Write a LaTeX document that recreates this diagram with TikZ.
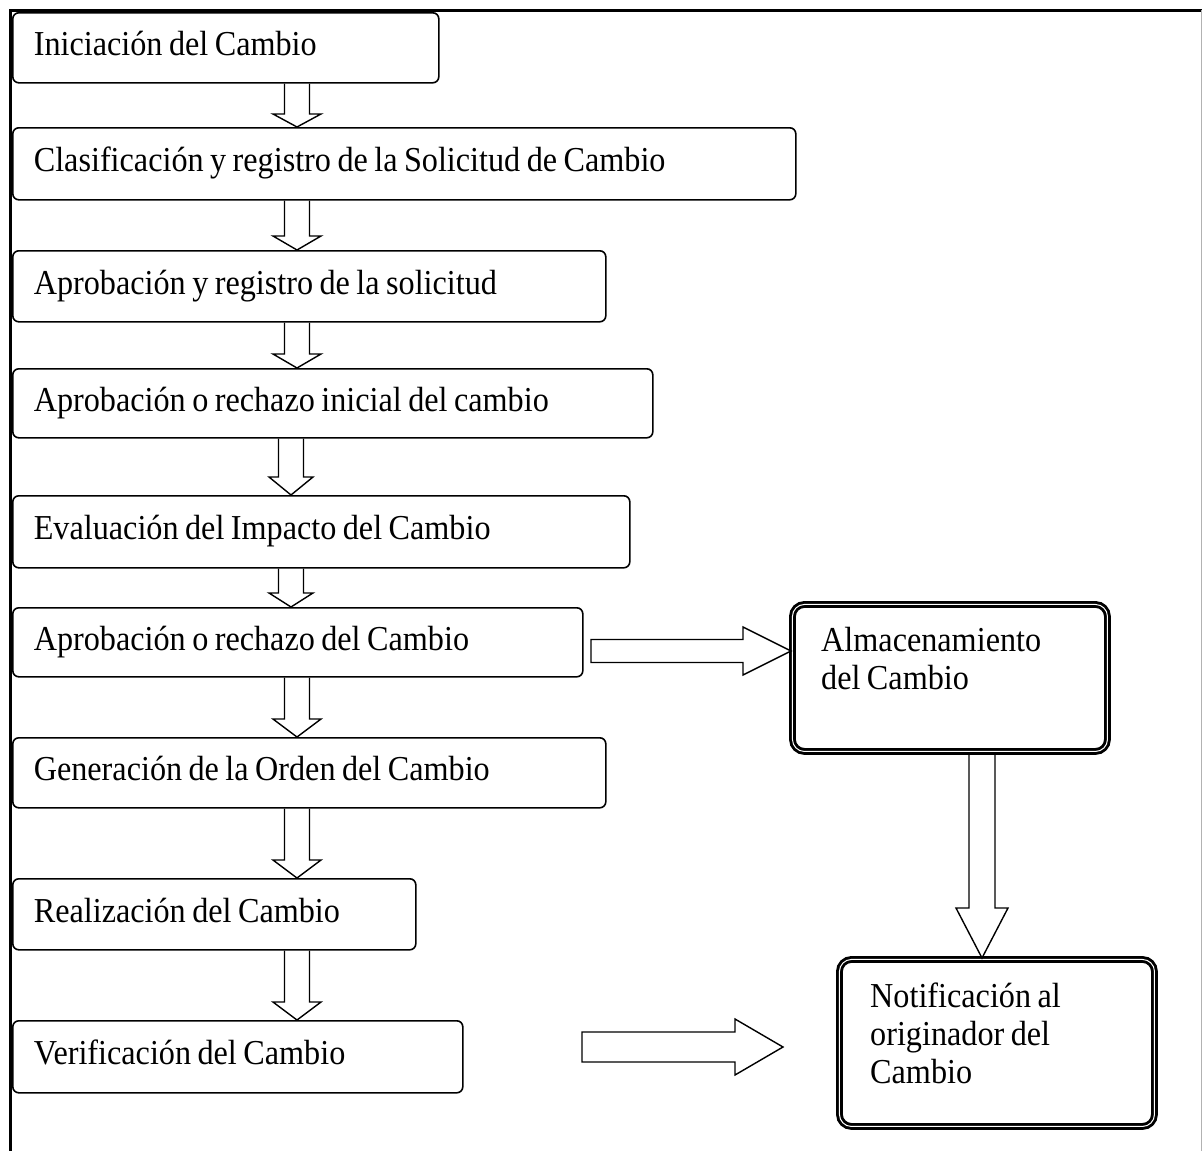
\documentclass[tikz,border=0pt]{standalone}
\usepackage{fontspec}
\setmainfont[FakeStretch=0.92, WordSpace=0.8]{Liberation Serif}
\usetikzlibrary{calc}
\newcommand{\VArrow}[6]{\draw[blockarrow] let \p1=(#1.south), \p2=(#2.north) in
  ({#3pt-#5pt},\y1) -- ({#3pt-#5pt},{\y2+#4pt}) -- ({#3pt-#6pt},{\y2+#4pt}) -- (#3pt,\y2)
  -- ({#3pt+#6pt},{\y2+#4pt}) -- ({#3pt+#5pt},{\y2+#4pt}) -- ({#3pt+#5pt},\y1);}
\newcommand{\HArrow}[5]{\draw[blockarrow] let \p1=(#1), \p2=(#2) in
  (\x1,{\y1+#3pt}) -- ({\x2-#5pt},{\y1+#3pt}) -- ({\x2-#5pt},{\y1+#4pt}) -- (\x2,\y1)
  -- ({\x2-#5pt},{\y1-#4pt}) -- ({\x2-#5pt},{\y1-#3pt}) -- (\x1,{\y1-#3pt}) -- cycle;}
\begin{document}
\begin{tikzpicture}[x=1pt,y=-1pt,
  sbox/.style={draw=black, line width=1.6pt, rounded corners=6pt, anchor=north west,
    inner xsep=21pt, inner ysep=0pt, align=flush left, text height=16pt, text depth=0pt,
    font=\fontsize{35}{38}\selectfont},
  tbox/.style={draw=black, line width=2.9pt, double=white, double distance=1pt,
    rounded corners=12pt, anchor=north west},
  txt/.style={anchor=north west, inner sep=0pt, align=left, font=\fontsize{35}{38}\selectfont},
  blockarrow/.style={draw=black, line width=1.4pt, line join=miter},
]
\useasboundingbox (0,0) rectangle (1202,1151);
\draw[line width=3pt] (10,1151) -- (10,10) -- (1202,10);
\draw[gray!60, line width=1pt] (1201,10) -- (1201,1151);

\node[sbox, text width=384pt, minimum height=70pt] (b1) at (12,12) {Iniciación del Cambio};
\node[sbox, text width=741pt, minimum height=72pt] (b2) at (12,127) {Clasificación y registro de la Solicitud de Cambio};
\node[sbox, text width=551pt, minimum height=71pt] (b3) at (12,250) {Aprobación y registro de la solicitud};
\node[sbox, text width=598pt, minimum height=69pt] (b4) at (12,368) {Aprobación o rechazo inicial del cambio};
\node[sbox, text width=575pt, minimum height=72pt] (b5) at (12,495) {Evaluación del Impacto del Cambio};
\node[sbox, text width=528pt, minimum height=69pt] (b6) at (12,607) {Aprobación o rechazo del Cambio};
\node[sbox, text width=551pt, minimum height=70pt] (b7) at (12,737) {Generación de la Orden del Cambio};
\node[sbox, text width=361pt, minimum height=71pt] (b8) at (12,878) {Realización del Cambio};
\node[sbox, text width=408pt, minimum height=72pt] (b9) at (12,1020) {Verificación del Cambio};

\node[tbox, minimum width=315pt, minimum height=147pt] (r1) at (791,603) {};
\node[txt] (r1t) at (821,627) {Almacenamiento\\del Cambio};
\node[tbox, minimum width=315pt, minimum height=167pt] (r2) at (838,958) {};
\node[txt] (r2t) at (870,983) {Notificación al\\originador del\\Cambio};

\VArrow{b1}{b2}{297}{13}{12.5}{24}
\VArrow{b2}{b3}{297}{14}{12.5}{24}
\VArrow{b3}{b4}{297}{14}{12.5}{24}
\VArrow{b4}{b5}{291}{18}{12.5}{22}
\VArrow{b5}{b6}{291}{14}{12.5}{22}
\VArrow{b6}{b7}{297}{18}{12.5}{24}
\VArrow{b7}{b8}{297}{18}{12.5}{24}
\VArrow{b8}{b9}{297}{18}{12.5}{24}
\VArrow{r1}{r2}{982}{50}{13}{26}

\coordinate (h1s) at (591,651);
\coordinate (h1e) at (r1.west |- h1s);
\coordinate (h2s) at (582,1047);
\coordinate (h2e) at (783,1047);
\HArrow{h1s}{h1e}{11.5}{24}{48}
\HArrow{h2s}{h2e}{15}{28}{48}
\end{tikzpicture}
\end{document}
